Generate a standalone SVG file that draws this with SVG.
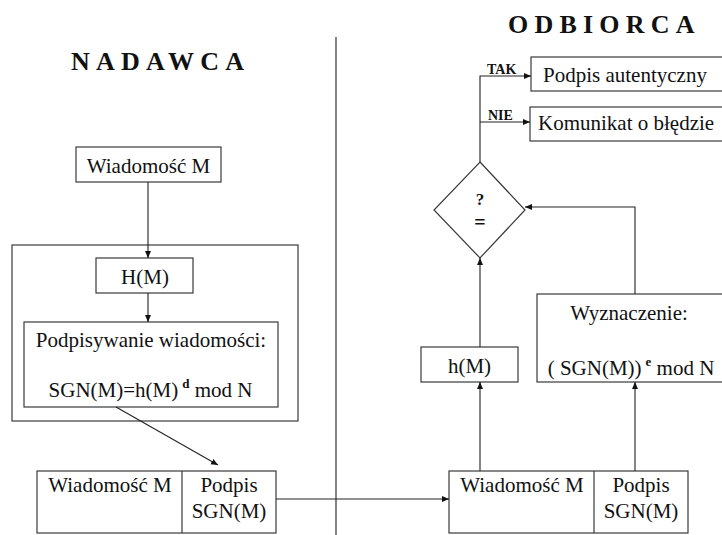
<svg xmlns="http://www.w3.org/2000/svg" width="722" height="535" viewBox="0 0 722 535">
<style>
.box{fill:#fff;stroke:#3a3a3a;stroke-width:1.2}
.t{font-family:'Liberation Serif','Times New Roman',serif;font-size:21px;fill:#111}
.h{font-family:'Liberation Serif','Times New Roman',serif;font-size:26px;font-weight:bold;fill:#111;letter-spacing:6.2px}
.b{font-family:'Liberation Serif','Times New Roman',serif;font-size:14px;font-weight:bold;fill:#111}
.sup{font-size:13px;font-weight:bold}
.c{fill:none;stroke:#222;stroke-width:1.1}
</style>
<defs>
<marker id="ah" markerWidth="8" markerHeight="8" refX="7" refY="4" orient="auto" markerUnits="userSpaceOnUse">
<path d="M0,1 L7,4 L0,7 Z" fill="#111"/>
</marker>
</defs>
<rect width="722" height="535" fill="#fff"/>
<text class="h" x="71" y="70">NADAWCA</text>
<text class="h" x="508" y="33">ODBIORCA</text>
<line x1="336" y1="37" x2="336" y2="535" stroke="#333" stroke-width="1.2"/>

<g id="sender-group"><rect class="box" x="12" y="245" width="286" height="176"/></g>
<g id="msg"><rect class="box" x="76" y="147" width="145" height="35"/><text class="t" x="148.5" y="173" text-anchor="middle">Wiadomość M</text></g>
<g id="hash"><rect class="box" x="96" y="258" width="97" height="35"/><text class="t" x="145" y="284" text-anchor="middle">H(M)</text></g>
<g id="sign"><rect class="box" x="24" y="322" width="254" height="85"/>
<text class="t" x="151" y="347" text-anchor="middle">Podpisywanie wiadomości:</text>
<text class="t" x="150.5" y="397" text-anchor="middle">SGN(M)=h(M)<tspan class="sup" dy="-9" dx="4">d</tspan><tspan dy="9"> mod N</tspan></text></g>
<g id="sent"><rect class="box" x="37" y="471" width="239" height="62"/><line class="box" x1="182" y1="471" x2="182" y2="533"/>
<text class="t" x="110" y="492" text-anchor="middle">Wiadomość M</text>
<text class="t" x="229" y="492" text-anchor="middle">Podpis</text>
<text class="t" x="229" y="518" text-anchor="middle">SGN(M)</text></g>

<g id="received"><rect class="box" x="449" y="471" width="239" height="62"/><line class="box" x1="594" y1="471" x2="594" y2="533"/>
<text class="t" x="522" y="492" text-anchor="middle">Wiadomość M</text>
<text class="t" x="641" y="492" text-anchor="middle">Podpis</text>
<text class="t" x="641" y="518" text-anchor="middle">SGN(M)</text></g>
<g id="hm"><rect class="box" x="421" y="347" width="97" height="35"/><text class="t" x="469.5" y="373" text-anchor="middle">h(M)</text></g>
<g id="verify"><rect class="box" x="537" y="294" width="190" height="88"/>
<text class="t" x="629" y="320" text-anchor="middle">Wyznaczenie:</text>
<text class="t" x="631" y="375" text-anchor="middle">( SGN(M))<tspan class="sup" dy="-9" dx="4">e</tspan><tspan dy="9"> mod N</tspan></text></g>
<g id="compare"><path class="box" d="M480,162 L525,210 L480,258 L434,210 Z"/>
<text class="b" x="480" y="205" text-anchor="middle" style="font-size:17px">?</text>
<text class="b" x="480" y="229" text-anchor="middle" style="font-size:20px">=</text></g>
<g id="ok"><rect class="box" x="531" y="57" width="192" height="34"/><text class="t" x="543" y="82">Podpis autentyczny</text></g>
<g id="err"><rect class="box" x="530" y="107" width="193" height="34"/><text class="t" x="538" y="130">Komunikat o błędzie</text></g>

<g id="connectors">
<line class="c" x1="148" y1="182" x2="148" y2="258" marker-end="url(#ah)"/>
<line class="c" x1="148" y1="293" x2="148" y2="322" marker-end="url(#ah)"/>
<line class="c" x1="116" y1="407" x2="218" y2="465" marker-end="url(#ah)"/>
<line class="c" x1="276" y1="499" x2="449" y2="499" marker-end="url(#ah)"/>
<line class="c" x1="480" y1="471" x2="480" y2="382" marker-end="url(#ah)"/>
<line class="c" x1="480" y1="347" x2="480" y2="258" marker-end="url(#ah)"/>
<line class="c" x1="635" y1="471" x2="635" y2="382" marker-end="url(#ah)"/>
<polyline class="c" points="635,294 635,207 525,207" marker-end="url(#ah)"/>
<polyline class="c" points="480,162 480,76 531,76" marker-end="url(#ah)"/>
<line class="c" x1="480" y1="122" x2="530" y2="122" marker-end="url(#ah)"/>
<text class="b" x="487" y="74">TAK</text>
<text class="b" x="488" y="120">NIE</text>
</g>
</svg>
